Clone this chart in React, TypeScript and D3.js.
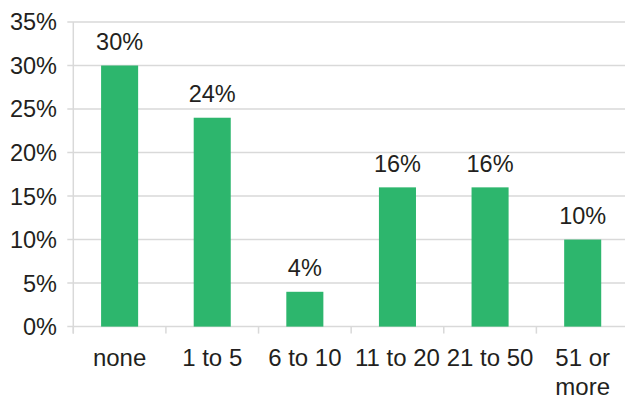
import React from "react";
import * as d3 from "d3";

const categories = ["none", "1 to 5", "6 to 10", "11 to 20", "21 to 50", "51 or more"];
const categoryLines = [["none"], ["1 to 5"], ["6 to 10"], ["11 to 20"], ["21 to 50"], ["51 or", "more"]];
const values = [30, 24, 4, 16, 16, 10];
const yTicks = [0, 5, 10, 15, 20, 25, 30, 35];

export default function App() {
  const W = 625, H = 398;
  const left = 73.3, right = 629, top = 22, bottom = 326.6;
  const x = d3.scaleBand<string>().domain(categories).range([left, right]).paddingInner(0).paddingOuter(0);
  const y = d3.scaleLinear().domain([0, 35]).range([bottom, top]);
  const bw = x.bandwidth() * 0.4;
  const font = "'Liberation Sans', Arial, sans-serif";
  const grid = "#d9d9d9";
  const text = "#231f20";
  const fs = 23.5;
  const fsx = 24;
  const boundaries = categories.map((c) => x(c)!).concat([right]);
  return (
    <svg width={W} height={H} style={{ position: "absolute", left: 0, top: 0 }} fontFamily={font}>
      {yTicks.map((t) => (
        <g key={t}>
          <line x1={left - 6} x2={right} y1={y(t)} y2={y(t)} stroke={grid} strokeWidth={1.5} />
          <text x={57} y={y(t)} dy="0.36em" textAnchor="end" fontSize={fs} fill={text}>{t}%</text>
        </g>
      ))}
      <line x1={left} x2={left} y1={top} y2={bottom + 7} stroke={grid} strokeWidth={1.5} />
      {boundaries.map((b, i) => (
        <line key={i} x1={b} x2={b} y1={bottom} y2={bottom + 7} stroke={grid} strokeWidth={1.5} />
      ))}
      {categories.map((c, i) => {
        const cx = x(c)! + x.bandwidth() / 2;
        return (
          <g key={c}>
            <rect x={cx - bw / 2} y={y(values[i])} width={bw} height={bottom - y(values[i])} fill="#2db66d" />
            <text x={cx} y={y(values[i]) - 15.5} textAnchor="middle" fontSize={fs} fill={text}>{values[i]}%</text>
            {categoryLines[i].map((l, j) => (
              <text key={j} x={cx} y={365.5 + j * 29} textAnchor="middle" fontSize={fsx} fill={text}>{l}</text>
            ))}
          </g>
        );
      })}
    </svg>
  );
}
